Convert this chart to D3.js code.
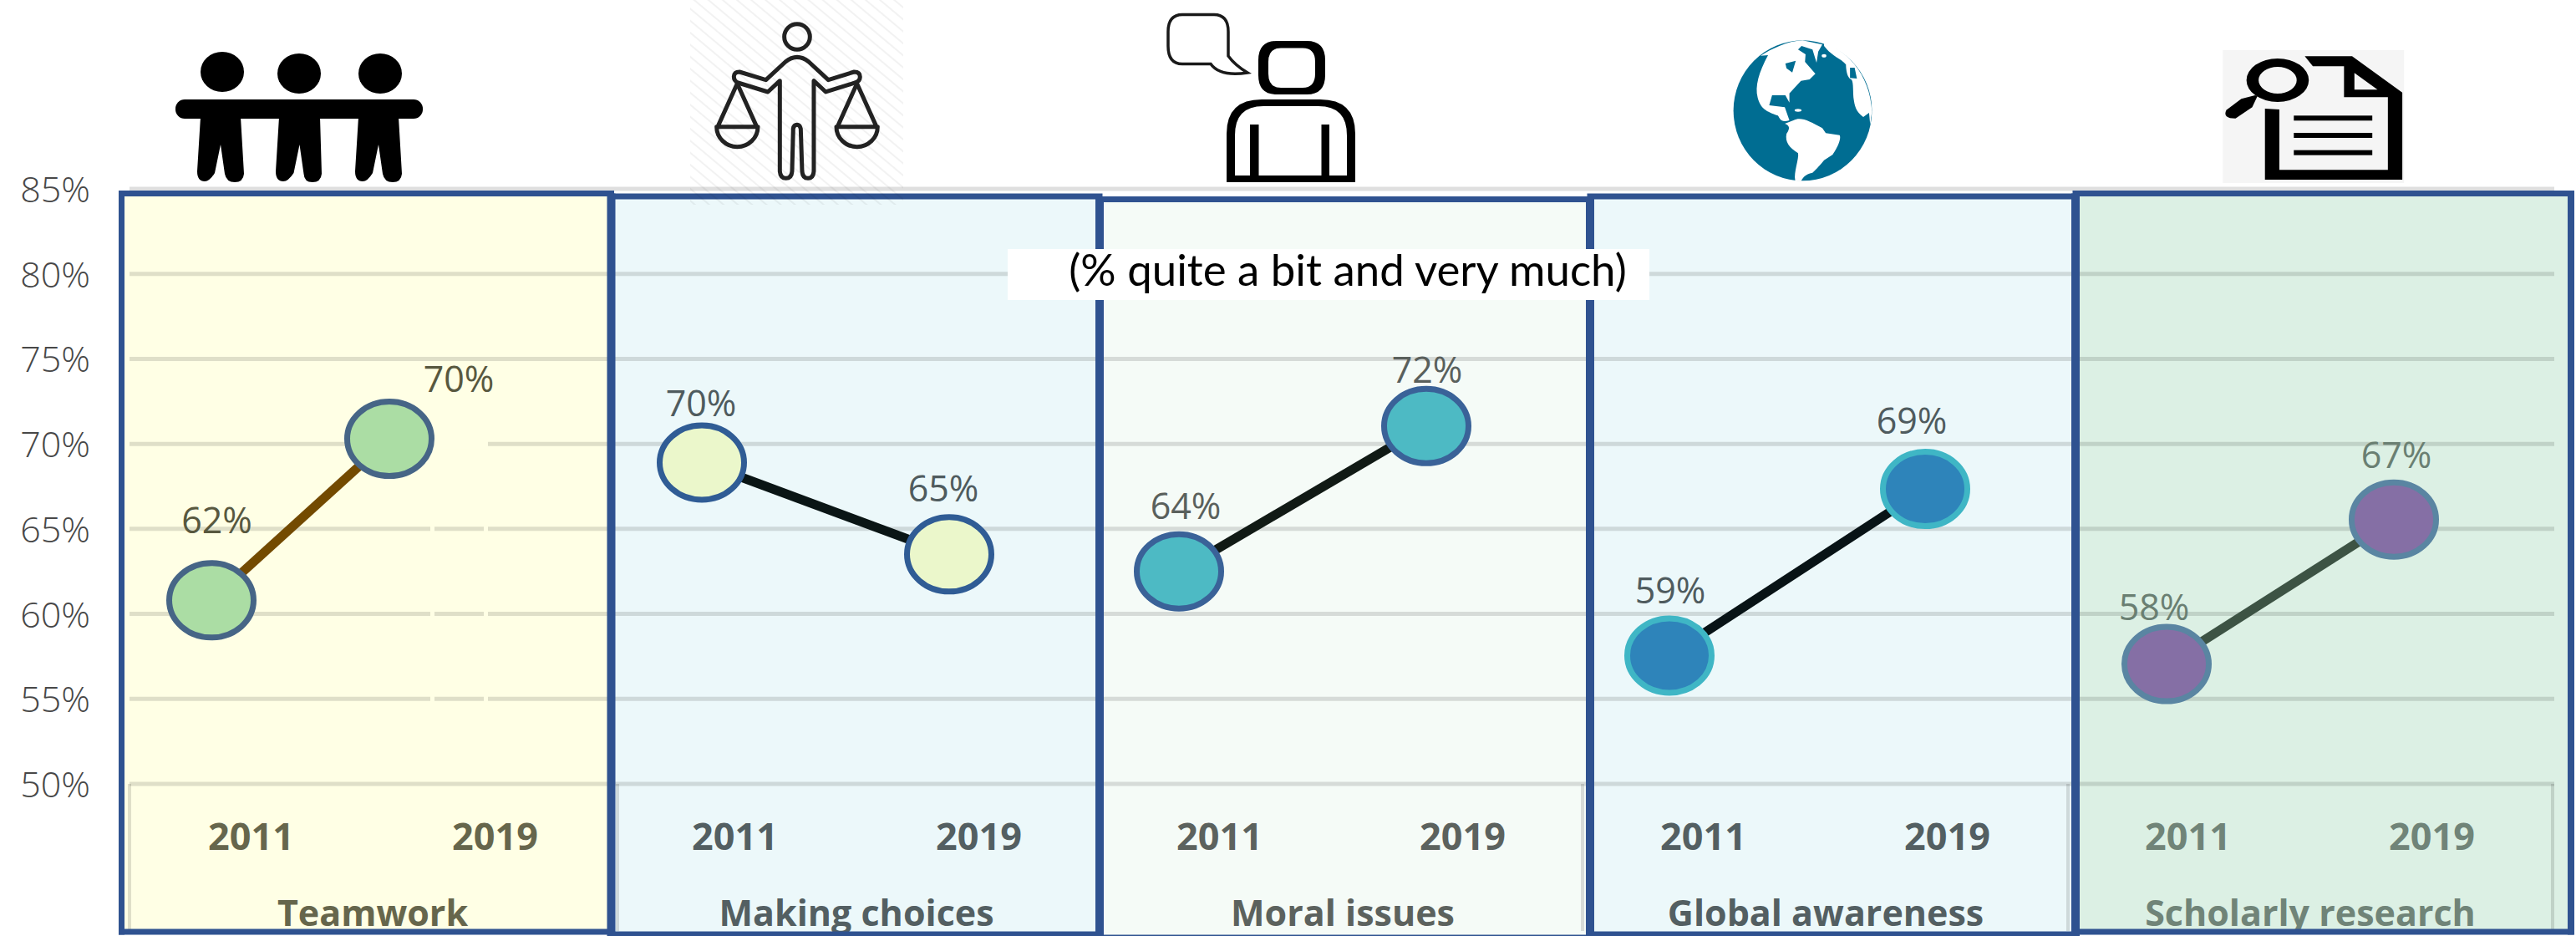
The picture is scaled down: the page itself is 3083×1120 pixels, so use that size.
<!DOCTYPE html>
<html>
<head>
<meta charset="utf-8">
<script src="https://cdn.jsdelivr.net/npm/d3@7"></script>
<style>
html, body { margin: 0; padding: 0; background: #fff; }
svg { display: block; }
text { font-family: "Open Sans", sans-serif; }
</style>
</head>
<body>
<div id="chart"></div>
<script>
// data
var categories = ["Teamwork", "Making choices", "Moral issues", "Global awareness", "Scholarly research"];
var years = ["2011", "2019"];
var yTicks = [50, 55, 60, 65, 70, 75, 80, 85];
var start2011 = [60.8, 68.9, 62.5, 57.55, 57.05];
var end2019 = [70.3, 63.5, 71.05, 67.35, 65.55];
var labels2011 = ["62%", "70%", "64%", "59%", "58%"];
var labels2019 = ["70%", "65%", "72%", "69%", "67%"];
var subtitle = "(% quite a bit and very much)";

// layout, measured in px
var width = 3083, height = 1120;
var edges = [145.5, 731.5, 1316, 1903, 2484, 3077];
var panelTop = [231.5, 235, 238.5, 235, 231.5];
var panelBottom = [1115, 1118, 1122, 1118, 1115];
var markerRange = [[253, 466], [840, 1136], [1411, 1707], [1998, 2304], [2593, 2865]];
var tickRange = [[300, 592], [879, 1171], [1459, 1750], [2038, 2330], [2618, 2910]];
var titleX = [446, 1025, 1607, 2185, 2765];
var labelOffset = [[[6.5, -80], [83, -56]], [[-1, -56], [-7, -63]], [[8, -63], [1, -52]], [[1, -62], [-16, -66]], [[-15, -53], [3, -62]]];
var boxSides = [155, 739, 1894, 2475, 3055];

// colours
var panelFill = ["#ffffe5", "#ecf8fa", "#f5fbf7", "#ecf8fa", "#dcf0e4"];
var markerFill = ["#abdda4", "#ebf7cb", "#4dbac4", "#2e84ba", "#856fa5"];
var markerStroke = ["#466586", "#305c95", "#3a6298", "#3fb6c5", "#5a85a2"];
var lineColor = ["#734a00", "#0a1515", "#111a15", "#081316", "#3d5344"];
var textColor = ["#66664c", "#535f62", "#5c625e", "#535f62", "#708478"];
var labelColor = ["#58583f", "#4f5b5e", "#5a605c", "#4f5b5e", "#6a7f72"];
var border = "#2f5290";

var svg = d3.select("#chart").append("svg").attr("width", width).attr("height", height);

var y = d3.scaleLinear().domain([50, 85]).range([938, 226]);

var defs = svg.append("defs");
var hatch = defs.append("pattern").attr("id", "hatch").attr("patternUnits", "userSpaceOnUse")
    .attr("width", 11).attr("height", 11).attr("patternTransform", "rotate(40)");
hatch.append("line").attr("x1", 0).attr("x2", 11).attr("y1", 5).attr("y2", 5)
    .attr("stroke", "#000").attr("stroke-opacity", 0.05).attr("stroke-width", 2);

// panel backgrounds
svg.selectAll("rect.panel").data(categories).enter().append("rect")
    .attr("class", "panel")
    .attr("x", function(d, i) { return edges[i]; })
    .attr("y", function(d, i) { return panelTop[i]; })
    .attr("width", function(d, i) { return edges[i + 1] - edges[i]; })
    .attr("height", function(d, i) { return panelBottom[i] - panelTop[i]; })
    .attr("fill", function(d, i) { return panelFill[i]; });

// grid
svg.selectAll("line.grid").data(yTicks).enter().append("line")
    .attr("class", "grid")
    .attr("x1", 155).attr("x2", 3057)
    .attr("y1", function(d) { return y(d); })
    .attr("y2", function(d) { return y(d); })
    .attr("stroke", "#000").attr("stroke-opacity", 0.125).attr("stroke-width", 5);

svg.selectAll("line.boxside").data(boxSides).enter().append("line")
    .attr("class", "boxside")
    .attr("x1", function(d) { return d; }).attr("x2", function(d) { return d; })
    .attr("y1", y(50)).attr("y2", 1114)
    .attr("stroke", "#000").attr("stroke-opacity", 0.125).attr("stroke-width", 4);

// leftover label box from the original, cuts the grid in the first panel
var cut = svg.append("g").attr("fill", panelFill[0]);
cut.append("rect").attr("x", 515).attr("y", y(70) - 6).attr("width", 69).attr("height", 12);
cut.append("rect").attr("x", 515).attr("y", y(65) - 4).attr("width", 5).attr("height", 8);
cut.append("rect").attr("x", 579).attr("y", y(65) - 4).attr("width", 5).attr("height", 8);
cut.append("rect").attr("x", 515).attr("y", y(60) - 4).attr("width", 5).attr("height", 8);
cut.append("rect").attr("x", 579).attr("y", y(60) - 4).attr("width", 5).attr("height", 8);
cut.append("rect").attr("x", 515).attr("y", y(55) - 4).attr("width", 5).attr("height", 8);
cut.append("rect").attr("x", 579).attr("y", y(55) - 4).attr("width", 5).attr("height", 8);

// y axis
var yAxis = d3.axisLeft(y).tickValues(yTicks).tickSize(0).tickPadding(0)
    .tickFormat(function(d) { return d + "%"; });
var yg = svg.append("g").attr("transform", "translate(108,0)").call(yAxis);
yg.select(".domain").remove();
yg.selectAll("text").attr("font-family", "'Open Sans'").attr("font-size", 43).attr("font-weight", 300)
    .attr("fill", "#484848").attr("dy", "0.36em");

// one small chart per panel
categories.forEach(function(cat, i) {
    var xMark = d3.scalePoint().domain(years).range(markerRange[i]);
    var xTick = d3.scalePoint().domain(years).range(tickRange[i]);
    var values = [start2011[i], end2019[i]];
    var texts = [labels2011[i], labels2019[i]];

    var g = svg.append("g").attr("class", "small");

    var line = d3.line()
        .x(function(d, j) { return xMark(years[j]); })
        .y(function(d) { return y(d); });

    g.append("path").attr("d", line(values))
        .attr("fill", "none").attr("stroke", lineColor[i]).attr("stroke-width", 11);

    g.selectAll("ellipse").data(values).enter().append("ellipse")
        .attr("cx", function(d, j) { return xMark(years[j]); })
        .attr("cy", function(d) { return y(d); })
        .attr("rx", 50.5).attr("ry", 44.5)
        .attr("fill", markerFill[i]).attr("stroke", markerStroke[i]).attr("stroke-width", 7);

    g.selectAll("text.val").data(values).enter().append("text")
        .attr("class", "val")
        .attr("x", function(d, j) { return xMark(years[j]) + labelOffset[i][j][0]; })
        .attr("y", function(d, j) { return y(d) + labelOffset[i][j][1]; })
        .attr("text-anchor", "middle").attr("font-size", 43)
        .attr("fill", labelColor[i])
        .text(function(d, j) { return texts[j]; });

    var ax = g.append("g").attr("transform", "translate(0,1017)")
        .call(d3.axisBottom(xTick).tickSize(0));
    ax.select(".domain").remove();
    ax.selectAll("text").attr("y", 0).attr("dy", 0)
        .attr("font-family", "'Open Sans'").attr("font-size", 45).attr("font-weight", 700)
        .attr("fill", textColor[i]);

    g.append("text").attr("x", titleX[i]).attr("y", 1108)
        .attr("text-anchor", "middle").attr("font-size", 43).attr("font-weight", 700)
        .attr("fill", textColor[i]).text(cat);
});

// panel borders
var borders = svg.append("g").attr("stroke", border).attr("fill", "none");
categories.forEach(function(cat, i) {
    borders.append("line").attr("x1", edges[i] - 3.5).attr("x2", edges[i + 1] + 3.5)
        .attr("y1", panelTop[i]).attr("y2", panelTop[i]).attr("stroke-width", 7);
    borders.append("line").attr("x1", edges[i] - 3.5).attr("x2", edges[i + 1] + 3.5)
        .attr("y1", panelBottom[i]).attr("y2", panelBottom[i]).attr("stroke-width", 7);
});
edges.forEach(function(x, i) {
    var top = i == 0 ? panelTop[0] : i == 5 ? panelTop[4] : Math.max(panelTop[i - 1], panelTop[i]);
    var bottom = i == 0 ? panelBottom[0] : i == 5 ? panelBottom[4] : Math.max(panelBottom[i - 1], panelBottom[i]);
    borders.append("line").attr("x1", x).attr("x2", x)
        .attr("y1", top - 3.5).attr("y2", bottom + 3.5)
        .attr("stroke-width", i == 0 ? 7 : i == 5 ? 8 : 10);
});

// subtitle box
svg.append("rect").attr("x", 1206).attr("y", 298).attr("width", 768).attr("height", 61).attr("fill", "#fff");
svg.append("text").attr("x", 1613).attr("y", 342).attr("text-anchor", "middle")
    .style("font-family", "Lato").attr("font-size", 52.8).attr("fill", "#000").text(subtitle);

// icons
var icons = svg.append("g");

// people holding arms
var team = icons.append("g").attr("fill", "#000");
[[266, 86], [358, 88], [455, 88]].forEach(function(h) {
    team.append("ellipse").attr("cx", h[0]).attr("cy", h[1]).attr("rx", 26).attr("ry", 24);
});
team.append("rect").attr("x", 210).attr("y", 119).attr("width", 296).attr("height", 23).attr("rx", 11);
[[240, 288, 236, 292], [334, 383, 330, 385], [429, 477, 425, 481]].forEach(function(b) {
    var mid = (b[0] + b[1]) / 2;
    team.append("path").attr("d", "M" + b[0] + " 140L" + b[1] + " 140L" + b[3] + " 208Q" + (b[3] - 1) + " 218 " + (b[3] - 11) + " 218Q" + (b[3] - 21) + " 218 " + (mid + 5) + " 208L" + mid + " 173L" + (mid - 7) + " 207Q" + (b[2] + 15) + " 217 " + (b[2] + 9) + " 217Q" + b[2] + " 217 " + b[2] + " 205Z");
});

// person with scales, coordinates of the 3x crop
icons.append("rect").attr("x", 826).attr("y", 0).attr("width", 255).attr("height", 245).attr("fill", "url(#hatch)");
var scales = icons.append("g").attr("transform", "translate(820,0) scale(0.3333)")
    .attr("fill", "none").attr("stroke", "#222").attr("stroke-width", 15).attr("stroke-linejoin", "round").attr("stroke-linecap", "round");
scales.append("circle").attr("cx", 402).attr("cy", 132).attr("r", 46);
scales.append("path").attr("d", "M195 258L290 287L360 222Q402 188 444 222L514 287L607 258Q628 258 628 276Q628 292 610 297L505 330L462 290L462 615Q460 640 441 640Q422 640 420 615L415 462Q412 448 402 448Q390 448 388 462L384 615Q382 640 362 640Q342 640 340 615L340 290L297 330L190 297Q175 290 175 275Q176 258 195 258Z");
[187, 617].forEach(function(c) {
    scales.append("path").attr("d", "M" + c + " 300L" + (c - 70) + " 455M" + c + " 300L" + (c + 70) + " 455M" + (c - 74) + " 455L" + (c + 74) + " 455A74 72 0 0 1 " + (c - 74) + " 455");
});

// person with speech bubble
var talk = icons.append("g");
talk.append("path").attr("d", "M1449 76.5L1415 76.5Q1398 76.5 1398 55L1398 38Q1398 17.5 1415 17.5L1453 17.5Q1470 17.5 1470 38L1470 67Q1478 78 1493 87Q1460 92 1449 76.5Z")
    .attr("fill", "none").attr("stroke", "#1a1a1a").attr("stroke-width", 3.5);
talk.append("path").attr("fill-rule", "evenodd").attr("fill", "#000")
    .attr("d", "M1528 49L1564 49Q1586 49 1586 72L1586 90Q1586 113 1564 113L1528 113Q1506 113 1506 90L1506 72Q1506 49 1528 49ZM1533 57.5Q1518 57.5 1518 74L1518 88Q1518 105 1533 105L1559 105Q1574 105 1574 88L1574 74Q1574 57.5 1559 57.5Z");
talk.append("path").attr("fill-rule", "evenodd").attr("fill", "#000")
    .attr("d", "M1510 119L1580 119Q1622 119 1622 160L1622 218L1468 218L1468 160Q1468 119 1510 119ZM1512 127Q1478 127 1478 162L1478 210L1496 210L1496 149L1506.5 149L1506.5 210L1581.5 210L1581.5 149L1591 149L1591 210L1612 210L1612 162Q1612 127 1578 127Z");

// globe, coordinates of the stretched crop
var globe = icons.append("g").attr("transform", "translate(2000,0) scale(0.6907,0.3333)");
globe.append("ellipse").attr("cx", 228).attr("cy", 397).attr("rx", 120).attr("ry", 252).attr("fill", "#006d92");
var land = globe.append("g").attr("fill", "#fff");
land.append("path").attr("d", "M168 198C152 260 145 310 150 350C155 390 165 400 185 415C190 430 190 440 205 432L197 385L170 378L175 342L198 342L205 368L205 335L225 290L240 285L250 265L232 222L233 195L220 178L226 165L245 178L252 225L255 185L262 160L228 145C200 148 175 175 155 200Z");
land.append("path").attr("d", "M265 155C300 175 345 260 348 400L345 448L343 405L333 420C320 400 318 380 316 350C315 320 316 290 312 285C305 280 303 250 303 232C295 210 280 205 265 165Z");
land.append("path").attr("d", "M212 432C225 418 240 435 262 460L268 478L292 485C296 500 285 540 280 555L265 575C255 600 250 610 245 620C232 625 228 640 225 650L215 648C212 620 222 570 220 550C205 530 197 510 200 480C207 460 205 450 197 444Z");
globe.append("path").attr("fill", "#006d92").attr("d", "M198 228L216 218L210 260L200 245Z");
globe.append("path").attr("fill", "#006d92").attr("d", "M310 243L318 243L322 282L310 280Z");
land.append("ellipse").attr("cx", 265).attr("cy", 200).attr("rx", 4).attr("ry", 6);
land.append("ellipse").attr("cx", 220).attr("cy", 396).attr("rx", 6).attr("ry", 5);

// document with magnifier, coordinates of the stretched crop
var doc = icons.append("g").attr("transform", "translate(2000,0) scale(0.6907,0.3333)");
doc.append("rect").attr("x", 956).attr("y", 180).attr("width", 314).attr("height", 477).attr("fill", "#f5f5f5");
doc.append("path").attr("fill", "#000").attr("d", "M1098 202L1180 202L1267 332L1267 645L1029 645L1029 390L1054 393L1054 610L1242 610L1242 349L1166 349L1166 238L1112 238Z");
doc.append("path").attr("fill", "#f5f5f5").attr("d", "M1184 262L1224 322L1184 322Z");
[415, 477, 539].forEach(function(t) {
    doc.append("rect").attr("x", 1079).attr("y", t).attr("width", 136).attr("height", 18).attr("fill", "#000");
});
doc.append("path").attr("fill", "#000").attr("fill-rule", "evenodd")
    .attr("d", "M997 288A54 78 0 1 1 1105 288A54 78 0 1 1 997 288ZM1018 288A33 48 0 1 0 1084 288A33 48 0 1 0 1018 288Z");
doc.append("path").attr("fill", "#000").attr("d", "M1012 342L988 355L962 395Q955 425 978 425L1007 385L1016 345Z");
</script>
</body>
</html>
